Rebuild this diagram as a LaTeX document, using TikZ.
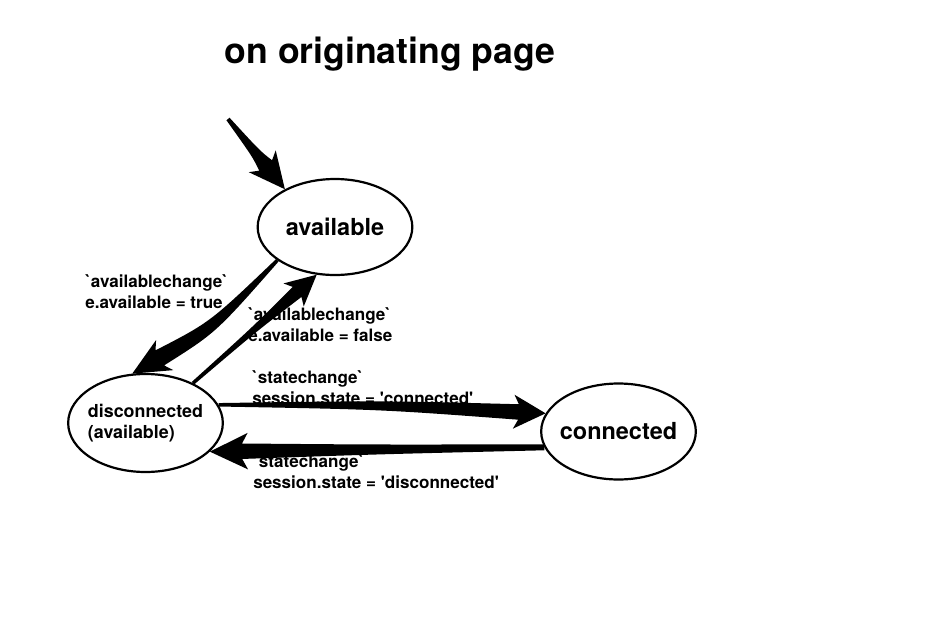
\documentclass[tikz,border=0pt]{standalone}
\usepackage{fontspec}
\newfontfamily\hv{TeX Gyre Heros}
\usetikzlibrary{shapes.geometric,calc}
% tapered, optionally bent arrow:
% #1 from, #2 to, #3 bend, #4 tail hw, #5 middle hw, #6 neck hw, #7 wing hw, #8 head length
\newcommand\taperarrow[8]{%
  \coordinate (tpM) at ($(#1)!0.5!(#2)$);
  \coordinate (tpC) at ($(tpM)!#3!90:(#2)$);
  \coordinate (tpN) at ($(#2)!#8*0.85!(tpC)$);
  \coordinate (tpW) at ($(#2)!#8!(tpC)$);
  \fill[black] ($(#1)!#4!90:(tpC)$) .. controls ($(tpC)!#5!90:(#2)$) .. ($(tpN)!#6!90:(#2)$)
    -- ($(tpW)!#7!90:(#2)$) -- (#2) -- ($(tpW)!#7!-90:(#2)$) -- ($(tpN)!#6!-90:(#2)$)
    .. controls ($(tpC)!#5!-90:(#2)$) .. ($(#1)!#4!-90:(tpC)$) -- cycle;}
\begin{document}
\begin{tikzpicture}[x=0.75pt,y=-0.75pt,
  state/.style={ellipse,draw,line width=1.65pt,fill=white,inner ysep=0pt,inner xsep=-8pt,
    minimum width=116pt,minimum height=72pt},
  big/.style={font=\hv\bfseries\fontsize{17.6}{21}\selectfont},
  lbl/.style={font=\hv\bfseries\fontsize{12.8}{16}\selectfont,align=left,
    inner sep=0pt,anchor=north west}]
\fill[white] (0,0) rectangle (938,621);
\useasboundingbox (0,0) rectangle (938,621);
\node[font=\hv\bfseries\fontsize{26.7}{32}\selectfont,anchor=base,inner sep=0pt] (title) at (390,63) {on originating page};
\node[state,big] (avail) at (335,227) {available};
\node[state,minimum height=73.5pt,align=left,font=\hv\bfseries\fontsize{13.4}{16}\selectfont] (disc) at (145.5,423) {disconnected\\(available)};
\node[state,big] (conn) at (618.5,431.5) {connected};
\coordinate (start) at (228,119);
\taperarrow{start}{avail.143}{0pt}{1.5pt}{3.6pt}{6.2pt}{13pt}{27pt}
\taperarrow{avail.210}{disc.105}{10pt}{1.3pt}{4.5pt}{6.5pt}{13pt}{28pt}
\taperarrow{disc.40}{avail.249}{0pt}{1.3pt}{2.2pt}{5pt}{11.5pt}{23pt}
\taperarrow{disc.14}{conn.166}{3pt}{1.3pt}{3.3pt}{5.8pt}{12.75pt}{24pt}
\taperarrow{conn.192}{disc.336}{0pt}{2.25pt}{3.6pt}{5.8pt}{13.7pt}{28.5pt}
\node[lbl] (l1) at (85,274) {`availablechange`\\e.available = true};
\node[lbl] (l2) at (248,307) {`availablechange`\\e.available = false};
\node[lbl] (l3) at (252,370) {`statechange`\\session.state = 'connected'};
\node[lbl] (l4) at (253,454) {`statechange`\\session.state = 'disconnected'};
\end{tikzpicture}
\end{document}
